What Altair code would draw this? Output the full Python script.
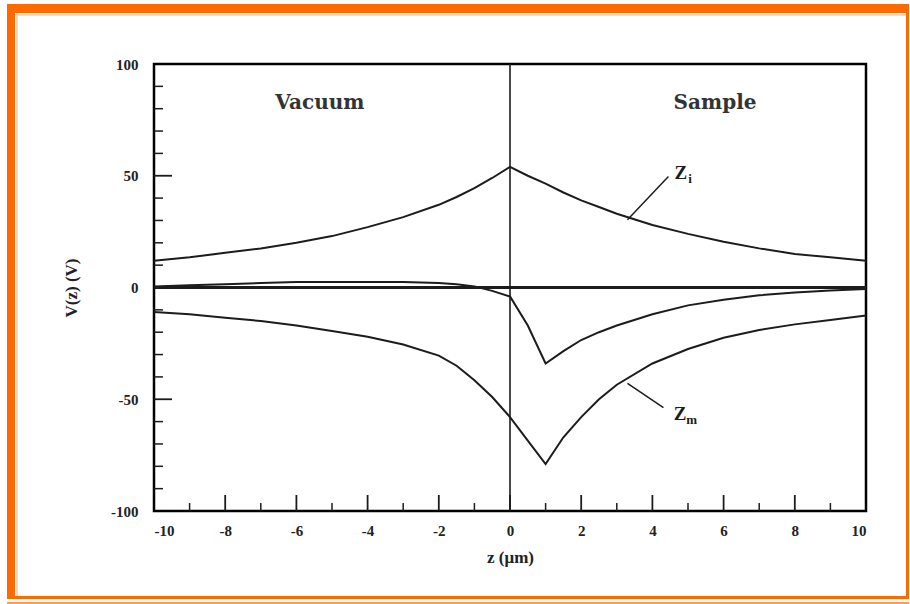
import altair as alt
import pandas as pd

# ---------------- data ----------------
z_pts = [-10, -9, -8, -7, -6, -5, -4, -3, -2, -1.5, -1, -0.5, 0,
         0.5, 1, 1.5, 2, 2.5, 3, 4, 5, 6, 7, 8, 9, 10]
zi_vals = [12, 13.5, 15.5, 17.5, 20, 23, 27, 31.5, 37, 40.5, 44.5, 49, 54,
           50, 46.5, 42.5, 39, 36, 33, 28, 24, 20.5, 17.5, 15, 13.5, 12]
mid_vals = [0.5, 1, 1.5, 2, 2.5, 2.5, 2.5, 2.5, 2, 1.5, 0.5, -1.5, -4,
            -17, -34, -28.5, -23.5, -20, -17, -12, -8, -5.5, -3.5, -2.2, -1.3, -0.7]
zm_vals = [-11, -12, -13.5, -15, -17, -19.5, -22, -25.5, -30.5, -35, -41.5, -49, -58,
           -68.5, -79, -67, -58, -50, -43.5, -34, -27.5, -22.5, -19, -16.5, -14.5, -12.5]

x_major = [-10, -8, -6, -4, -2, 0, 2, 4, 6, 8, 10]
x_minor = [-9, -7, -5, -3, -1, 1, 3, 5, 7, 9]
y_major = [-100, -50, 0, 50, 100]
y_minor = [-90, -80, -70, -60, -40, -30, -20, -10, 10, 20, 30, 40, 60, 70, 80, 90]

ref_x = [0]
ref_y = [0]

region_labels = ["Vacuum", "Sample"]
region_z = [-5.34, 5.76]
region_v = [82.6, 82.6]

curve_main = ["Z", "Z"]
curve_sub = ["i", "m"]
main_z = [4.8, 4.78]
main_v = [51.4, -56.6]
sub_z = [5.06, 5.1]
sub_v = [48.6, -59.4]
leader_z1 = [3.3, 3.3]
leader_v1 = [30.3, -42.9]
leader_z2 = [4.45, 4.31]
leader_v2 = [49.7, -53.7]

W, H = 712, 447
INK = "#1c1c1c"
SERIF = "Liberation Serif"
ORANGE = "#FF6A00"
X_TITLE = "z (μm)"
Y_TITLE = "V(z) (V)"

# ---------------- tables ----------------
curves = pd.DataFrame({
    "z": z_pts * 3,
    "v": zi_vals + mid_vals + zm_vals,
    "series": ["Zi"] * len(z_pts) + ["mid"] * len(z_pts) + ["Zm"] * len(z_pts),
})

xs = alt.Scale(domain=[-10, 10], nice=False, zero=False)
ys = alt.Scale(domain=[-100, 100], nice=False, zero=False)
x_axis = alt.Axis(values=x_major, domain=False, ticks=False, grid=False,
                  labelPadding=12, labelExpr="datum.value + ''", titlePadding=11)
y_axis = alt.Axis(values=y_major, domain=False, ticks=False, grid=False,
                  labelPadding=16, labelExpr="datum.value + ''", titlePadding=30)


def X(field):
    return alt.X(field, type="quantitative", scale=xs, axis=x_axis, title=X_TITLE)


def Y(field):
    return alt.Y(field, type="quantitative", scale=ys, axis=y_axis, title=Y_TITLE)


base_lines = alt.Chart(curves).mark_line(color=INK, strokeWidth=2, interpolate="linear").encode(
    x=X("z"), y=Y("v"), detail="series:N")

zero_h = alt.Chart(pd.DataFrame({"v": ref_y})).mark_rule(color=INK, strokeWidth=3).encode(y=Y("v"))
zero_v = alt.Chart(pd.DataFrame({"z": ref_x})).mark_rule(color=INK, strokeWidth=1.6).encode(x=X("z"))

xt_major = alt.Chart(pd.DataFrame({"z": x_major[1:-1]})).mark_rule(color=INK, strokeWidth=1.8).encode(
    x=X("z"), y=alt.value(H), y2=alt.value(H - 16))
xt_minor = alt.Chart(pd.DataFrame({"z": x_minor})).mark_rule(color=INK, strokeWidth=1.5).encode(
    x=X("z"), y=alt.value(H), y2=alt.value(H - 8))
yt_major = alt.Chart(pd.DataFrame({"v": y_major[1:-1]})).mark_rule(color=INK, strokeWidth=1.8).encode(
    y=Y("v"), x=alt.value(0), x2=alt.value(18))
yt_minor = alt.Chart(pd.DataFrame({"v": y_minor})).mark_rule(color=INK, strokeWidth=1.5).encode(
    y=Y("v"), x=alt.value(0), x2=alt.value(9))

regions = alt.Chart(pd.DataFrame({"lab": region_labels, "z": region_z, "v": region_v})).mark_text(
    font="DejaVu Serif", fontSize=20, fontWeight="bold", color="#333333",
    align="center", baseline="middle").encode(x=X("z"), y=Y("v"), text="lab:N")

main_lab = alt.Chart(pd.DataFrame({"lab": curve_main, "z": main_z, "v": main_v})).mark_text(
    font=SERIF, fontSize=19, fontWeight="bold", color=INK, align="center", baseline="middle").encode(
    x=X("z"), y=Y("v"), text="lab:N")
sub_lab = alt.Chart(pd.DataFrame({"lab": curve_sub, "z": sub_z, "v": sub_v})).mark_text(
    font=SERIF, fontSize=13, fontWeight="bold", color=INK, align="center", baseline="middle").encode(
    x=X("z"), y=Y("v"), text="lab:N")
leaders = alt.Chart(pd.DataFrame({"z": leader_z1, "v": leader_v1,
                                  "z2": leader_z2, "v2": leader_v2})).mark_rule(
    color=INK, strokeWidth=1.5).encode(x=X("z"), y=Y("v"), x2="z2:Q", y2="v2:Q")

# ---------------- decorative orange frame (page decoration, pixel offsets) ----------------
dummy = pd.DataFrame({"k": [0]})
OX, OY = 154, 64  # page position of the plot origin


def frame_rect(x1, x2, y1, y2, color):
    return alt.Chart(dummy).mark_rect(color=color, opacity=1).encode(
        x=alt.value(x1 - OX), x2=alt.value(x2 - OX),
        y=alt.value(y1 - OY), y2=alt.value(y2 - OY))


frame = (
    frame_rect(7, 909, 4, 13, ORANGE)
    + frame_rect(7, 15, 4, 599, ORANGE)
    + frame_rect(906, 909, 4, 599, ORANGE)
    + frame_rect(7, 909, 596, 599, ORANGE)
    + frame_rect(7, 909, 602, 604, "#FF9A55")
    + frame_rect(16.5, 17.5, 13, 596, "#FFB27A")
    + frame_rect(15, 906, 14.5, 15.5, "#FFB27A")
)

chart = alt.layer(
    base_lines, zero_h, zero_v, xt_major, xt_minor, yt_major, yt_minor,
    leaders, regions, main_lab, sub_lab, frame,
).properties(
    width=W, height=H,
    padding={"left": OX, "top": OY, "right": 910 - OX - W, "bottom": 604 - OY - H},
    autosize=alt.AutoSizeParams(type="none"),
    background="white",
).configure_view(
    stroke="black", strokeWidth=2.5
).configure_axis(
    labelFont=SERIF, labelFontSize=15, labelFontWeight="bold", labelColor="#222222",
    titleFont=SERIF, titleFontSize=17, titleFontWeight="bold", titleColor="#222222",
)

chart.save("out.html", embed_options={"renderer": "svg", "actions": False})
